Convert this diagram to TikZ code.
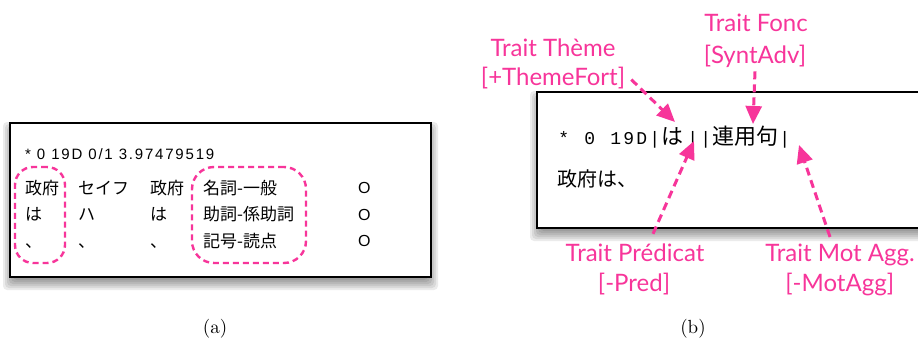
\documentclass[tikz,border=0pt]{standalone}
\usepackage{fontspec}
\usetikzlibrary{arrows.meta}
\newfontfamily\jpf{Noto Sans CJK JP}
\newfontfamily\hsans[LetterSpace=12]{Liberation Sans}
\newfontfamily\hsansp{Liberation Sans}
\newfontfamily\labfont{Lato}
\newfontfamily\mymono{Liberation Mono}
\newfontfamily\capfont{lmroman10-regular}[Extension=.otf]
\definecolor{hotpink}{HTML}{F7359A}
\newcommand{\mc}[1]{\makebox[13pt]{\mymono\fontsize{18}{20}\selectfont #1}}
\newcommand{\jc}[2]{\makebox[#1]{\jpf\fontsize{22}{24}\selectfont #2}}
\begin{document}
\begin{tikzpicture}[x=1pt,y=-1pt,
  lt/.style={font=\hsans\fontsize{15}{17}\selectfont, inner sep=0, anchor=base west},
  ot/.style={font=\hsansp\fontsize{16}{18}\selectfont, inner sep=0, anchor=base west},
  jl/.style={font=\jpf\fontsize{17}{18}\selectfont, inner sep=0, anchor=base west},
  dbox/.style={draw=hotpink, line width=2.4pt, dash pattern=on 6pt off 4pt, rounded corners=18pt, rectangle, inner sep=0},
  parr/.style={draw=hotpink, line width=3pt, dash pattern=on 8pt off 5pt, -{Triangle[length=18pt,width=16pt,fill=hotpink]}},
  lab/.style={font=\labfont\fontsize{24}{26}\selectfont, text=hotpink, inner sep=1pt, anchor=base},
  panel/.style={draw=black, line width=1.3pt, fill=white},
  captext/.style={font=\capfont\fontsize{19}{21}\selectfont, inner sep=1pt}]
\useasboundingbox (0,0) rectangle (918,340);
% shadows
\foreach \e in {-3,-1,...,7}{
  \fill[black,opacity=0.08,rounded corners=4pt] (10-\e,129-\e) rectangle (431+\e,283+\e);
  \fill[black,opacity=0.08,rounded corners=4pt] (537-\e,98-\e) rectangle (960+\e,234+\e);
}
% panel (a)
\draw[panel] (10,123) rectangle (431,277);
\node[lt] (hdr) at (25,159.5) {* 0 19D 0/1 3.97479519};
\node[jl] (a11) at (25,194) {政府};
\node[jl] (a21) at (25,220.5) {は};
\node[jl] (a31) at (25,247) {、};
\node[jl] (a12) at (78,194) {セイフ};
\node[jl] (a22) at (78,220.5) {ハ};
\node[jl] (a32) at (78,247) {、};
\node[jl] (a13) at (150,194) {政府};
\node[jl] (a23) at (150,220.5) {は};
\node[jl] (a33) at (150,247) {、};
\node[jl] (a14) at (203,194) {名詞-一般};
\node[jl] (a24) at (203,220.5) {助詞-係助詞};
\node[jl] (a34) at (203,247) {記号-読点};
\node[ot] (a15) at (358,193.3) {O};
\node[ot] (a25) at (358,220) {O};
\node[ot] (a35) at (358,246.5) {O};
\node[dbox, minimum width=50pt, minimum height=96pt] (grp1) at (40,215) {};
\node[dbox, minimum width=114pt, minimum height=96pt, rounded corners=22pt] (grp2) at (249,215) {};
\node[captext] (capa) at (215,329) {(a)};
% panel (b)
\draw[panel] (537,92) rectangle (960,228);
\node[anchor=base west, inner sep=0] (line1) at (557,144.3)
  {\mc{*}\mc{}\mc{0}\mc{}\mc{1}\mc{9}\mc{D}\mc{|}\jc{22pt}{は}\hspace{3pt}\mc{|}\mc{|}\jc{66pt}{連用句}\mc{|}};
\node[anchor=base west, inner sep=0, font=\jpf\fontsize{20}{22}\selectfont] (line2) at (557,186) {政府は、};
\node[lab] (themeA) at (553,56) {Trait Thème};
\node[lab] (themeB) at (553,85) {[+ThemeFort]};
\node[lab] (foncA) at (756,31.7) {Trait Fonc};
\node[lab] (foncB) at (755,63) {[SyntAdv]};
\node[lab] (predA) at (635,261.7) {Trait Prédicat};
\node[lab] (predB) at (634,291.7) {[-Pred]};
\node[lab] (motA) at (840,261.7) {Trait Mot Agg.};
\node[lab] (motB) at (839.7,291.7) {[-MotAgg]};
\node[captext] (capb) at (693,329) {(b)};
\coordinate (thTip) at (675,122);
\coordinate (fcTip) at (753,124);
\coordinate (prTip) at (694,141);
\coordinate (maTip) at (799,145);
\draw[parr] ([shift={(5,2)}]themeB.east) -- (thTip);
\draw[parr] ([shift={(0,3)}]foncB.south) -- (fcTip);
\draw[parr] ([shift={(18,-9)}]predA.north) -- (prTip);
\draw[parr] ([shift={(-10,-6)}]motA.north) -- (maTip);
\end{tikzpicture}
\end{document}
